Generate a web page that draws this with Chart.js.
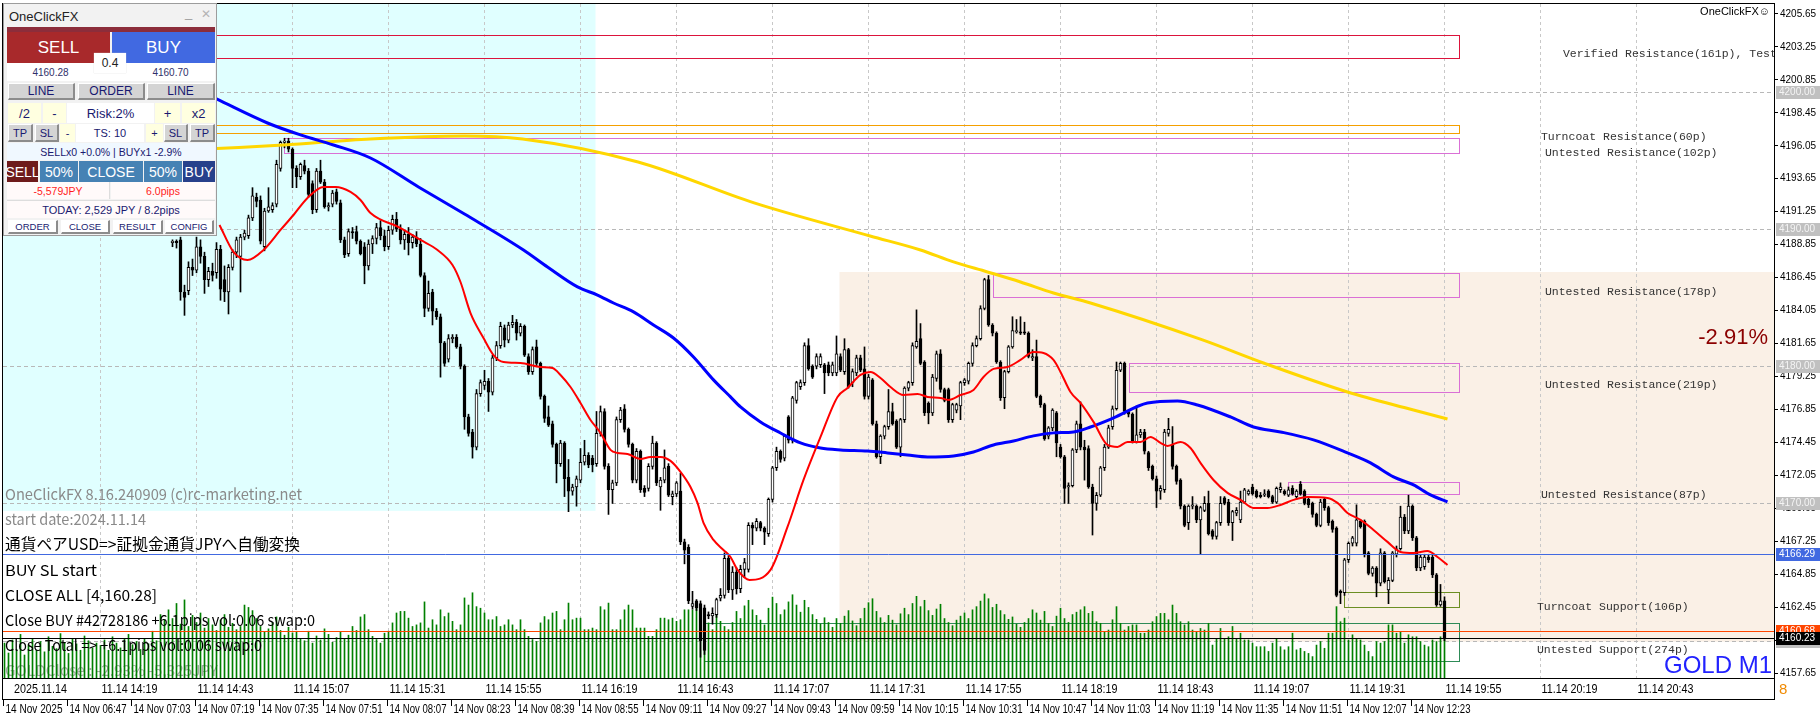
<!DOCTYPE html>
<html>
<head>
<meta charset="utf-8">
<title>GOLD M1</title>
<script src="https://cdn.jsdelivr.net/npm/chart.js@4.4.1/dist/chart.umd.min.js"></script>
<style>
  html, body { margin: 0; padding: 0; background: #fff; }
  #wrap { position: relative; width: 1820px; height: 720px; overflow: hidden; }
  #chart { position: absolute; left: 0; top: 0; }
  #panel { position: absolute; left: 0; top: 0; width: 1px; height: 1px; font-family: "Liberation Sans", Arial, sans-serif; }
  #panel div { position: absolute; box-sizing: border-box; display: flex; align-items: center; justify-content: center; white-space: nowrap; overflow: hidden; }
</style>
</head>
<body>
<div id="wrap">
  <canvas id="chart" width="1820" height="720"></canvas>
  <div id="panel"></div>
</div>
<script>
// minutes are counted from 11.14 14:19 (one candle per minute)
const firstBarMinute = 18;
// [open, high, low, close]
const ohlc = [
  [4189.0,4189.2,4188.7,4189.1],[4189.1,4189.2,4188.6,4189.0],[4189.2,4189.4,4184.8,4185.4],[4185.4,4185.9,4183.7,4185.0],
  [4185.5,4187.6,4185.2,4187.2],[4187.2,4187.8,4186.6,4187.0],[4187.0,4189.4,4186.8,4188.7],[4188.7,4189.2,4187.5,4188.0],
  [4188.0,4188.3,4185.3,4186.3],[4186.3,4187.2,4185.8,4186.9],[4186.9,4187.5,4186.2,4186.6],[4186.8,4189.0,4186.4,4188.5],
  [4188.5,4188.8,4184.8,4185.6],[4186.3,4187.3,4184.7,4185.4],[4185.4,4187.4,4183.8,4187.2],[4187.2,4188.5,4187.0,4188.3],
  [4188.3,4189.4,4187.9,4189.2],[4188.0,4189.6,4185.4,4189.4],[4189.4,4189.9,4189.2,4189.7],[4189.5,4191.0,4189.3,4190.8],
  [4190.8,4193.0,4190.6,4192.4],[4192.3,4192.6,4191.6,4192.0],[4192.1,4192.4,4188.9,4189.1],[4188.7,4191.5,4188.4,4191.3],
  [4191.3,4193.0,4191.2,4191.6],[4191.4,4191.9,4191.2,4191.7],[4191.8,4195.0,4191.6,4194.7],[4194.4,4196.4,4194.2,4196.3],
  [4196.3,4196.6,4195.9,4196.4],[4196.4,4196.6,4195.6,4195.8],[4195.8,4195.9,4193.0,4194.4],[4194.4,4194.6,4193.0,4193.8],
  [4193.8,4194.8,4193.6,4194.7],[4194.6,4195.0,4194.0,4194.2],[4194.2,4194.4,4192.3,4192.5],[4193.3,4193.5,4191.1,4191.4],
  [4191.4,4194.4,4191.2,4194.2],[4194.2,4195.0,4193.3,4193.4],[4193.4,4193.6,4191.5,4191.6],[4191.6,4191.9,4191.3,4191.7],
  [4191.8,4192.8,4191.6,4192.6],[4192.7,4192.9,4191.8,4192.0],[4191.9,4192.1,4189.0,4189.2],[4189.2,4189.4,4187.9,4188.1],
  [4188.2,4190.0,4188.0,4189.8],[4189.8,4190.1,4189.3,4189.7],[4189.8,4190.2,4188.9,4189.1],[4189.1,4189.2,4188.1,4188.2],
  [4188.7,4189.0,4186.0,4187.3],[4187.3,4189.2,4187.0,4188.9],[4188.9,4189.5,4188.2,4189.3],[4189.3,4190.4,4188.9,4190.1],
  [4190.1,4190.6,4189.2,4189.5],[4189.5,4189.9,4188.4,4188.7],[4188.7,4190.2,4188.5,4189.9],[4189.9,4191.0,4189.6,4190.7],
  [4190.7,4191.2,4189.8,4190.0],[4190.0,4190.3,4188.9,4189.2],[4189.2,4189.9,4188.5,4189.6],[4189.6,4190.1,4188.1,4189.0],
  [4189.0,4189.6,4188.6,4189.4],[4189.4,4189.8,4188.7,4188.9],[4188.9,4189.3,4186.5,4186.6],[4186.6,4186.8,4183.6,4184.2],
  [4184.2,4186.2,4184.0,4185.3],[4185.4,4185.6,4183.0,4184.0],[4184.0,4184.2,4183.4,4183.6],[4183.6,4183.8,4179.2,4181.7],
  [4181.7,4181.8,4180.0,4180.2],[4180.5,4182.3,4180.3,4182.0],[4182.0,4182.3,4181.7,4182.1],[4182.1,4182.3,4181.3,4181.4],
  [4181.4,4181.6,4179.8,4180.0],[4180.0,4180.1,4175.4,4176.3],[4176.3,4176.5,4174.9,4175.1],[4175.2,4175.4,4173.3,4174.1],
  [4174.1,4178.3,4173.9,4178.0],[4178.0,4179.0,4177.8,4178.8],[4178.6,4179.7,4178.3,4178.9],[4178.9,4179.1,4176.7,4178.1],
  [4178.1,4180.8,4177.9,4180.6],[4180.6,4181.8,4180.4,4181.5],[4181.5,4183.2,4181.3,4182.9],[4182.8,4183.0,4181.4,4181.9],
  [4181.9,4183.2,4181.7,4183.0],[4183.0,4183.7,4182.8,4183.2],[4183.2,4183.4,4181.9,4182.4],[4182.4,4183.1,4182.2,4182.9],
  [4182.9,4183.0,4180.7,4180.8],[4180.7,4180.9,4179.4,4179.6],[4179.6,4181.4,4179.4,4181.2],[4181.4,4181.9,4180.0,4180.2],
  [4180.2,4180.3,4177.6,4177.8],[4177.8,4177.9,4175.9,4176.2],[4176.3,4177.1,4175.6,4175.7],[4175.8,4176.0,4174.1,4174.3],
  [4174.3,4174.4,4171.5,4172.9],[4172.9,4174.6,4172.7,4174.4],[4174.4,4174.5,4170.5,4171.8],[4171.9,4173.2,4169.4,4170.9],
  [4170.9,4171.4,4170.6,4171.2],[4171.2,4172.0,4169.8,4171.8],[4171.7,4174.0,4171.5,4173.0],[4173.0,4174.6,4172.8,4173.5],
  [4173.5,4173.7,4172.6,4172.8],[4173.3,4173.5,4172.3,4172.8],[4172.9,4176.7,4172.7,4175.1],[4175.1,4177.1,4174.9,4176.7],
  [4176.7,4176.9,4172.5,4172.7],[4172.7,4172.9,4169.2,4171.0],[4171.0,4171.7,4170.0,4171.5],[4171.5,4176.3,4171.3,4176.1],
  [4176.1,4177.0,4175.9,4176.8],[4176.9,4177.2,4175.2,4175.4],[4175.4,4175.5,4174.1,4174.3],[4174.3,4174.4,4171.5,4171.7],
  [4171.7,4174.0,4171.5,4173.8],[4173.8,4173.9,4170.8,4171.0],[4171.1,4171.3,4170.5,4170.8],[4171.1,4172.9,4170.9,4172.7],
  [4172.7,4174.9,4172.5,4174.4],[4174.4,4174.5,4171.3,4171.5],[4171.2,4171.9,4169.5,4171.7],[4171.7,4173.9,4171.5,4172.6],
  [4172.7,4172.9,4170.5,4170.6],[4170.5,4170.9,4169.9,4170.7],[4170.7,4171.6,4170.5,4171.5],[4170.9,4172.2,4167.0,4167.2],
  [4167.2,4167.4,4165.6,4166.6],[4166.8,4167.0,4162.7,4162.9],[4162.5,4163.6,4162.3,4162.7],[4162.9,4163.0,4162.2,4162.4],
  [4162.7,4162.9,4158.8,4160.0],[4162.4,4162.6,4159.0,4159.3],[4161.9,4162.1,4161.6,4161.8],[4161.8,4162.4,4161.2,4162.0],
  [4161.9,4163.1,4161.7,4163.0],[4163.1,4163.8,4162.9,4163.3],[4163.3,4166.4,4163.1,4166.0],[4166.0,4166.2,4163.5,4163.7],
  [4163.7,4165.4,4163.0,4165.0],[4165.0,4165.3,4163.4,4163.8],[4163.8,4165.5,4163.5,4165.2],[4165.2,4166.0,4164.6,4165.7],
  [4165.2,4168.6,4165.0,4168.4],[4168.4,4168.6,4167.0,4168.2],[4168.2,4168.9,4168.0,4168.7],[4168.6,4168.7,4168.0,4168.2],
  [4168.2,4168.3,4167.0,4167.9],[4167.8,4170.4,4167.6,4170.3],[4170.3,4172.7,4170.1,4172.6],[4172.6,4174.1,4172.4,4173.8],
  [4173.8,4173.9,4173.0,4173.2],[4173.3,4175.0,4173.1,4174.9],[4176.3,4176.4,4174.4,4174.6],[4174.6,4177.8,4174.4,4177.7],
  [4177.5,4178.9,4177.3,4178.8],[4178.5,4179.0,4178.3,4178.8],[4178.8,4181.7,4178.6,4181.5],[4181.5,4182.0,4179.7,4179.8],
  [4180.0,4180.1,4179.1,4179.2],[4180.0,4180.9,4179.8,4180.7],[4180.1,4180.9,4179.9,4180.7],[4180.1,4180.2,4178.0,4179.5],
  [4180.1,4180.3,4179.3,4179.5],[4179.5,4180.3,4179.3,4180.1],[4179.5,4182.2,4179.3,4180.9],[4180.7,4180.9,4179.6,4179.7],
  [4179.6,4182.0,4179.4,4181.2],[4181.2,4181.3,4178.4,4178.5],[4178.8,4179.8,4178.5,4179.6],[4179.5,4180.8,4179.3,4180.6],
  [4180.6,4180.8,4179.6,4179.7],[4179.8,4181.4,4177.6,4177.8],[4177.8,4179.4,4177.6,4179.2],[4179.0,4179.1,4175.7,4175.8],
  [4175.8,4176.0,4173.3,4173.4],[4173.4,4175.0,4172.9,4174.9],[4174.9,4175.7,4174.7,4175.6],[4175.6,4178.3,4175.4,4176.7],
  [4176.7,4177.3,4175.7,4175.8],[4176.0,4176.1,4174.0,4174.1],[4174.1,4176.2,4173.4,4176.1],[4176.1,4178.5,4175.9,4178.4],
  [4178.4,4178.9,4178.2,4178.8],[4178.8,4181.7,4178.6,4181.5],[4181.4,4184.1,4181.3,4181.8],[4182.0,4183.1,4180.1,4180.2],
  [4180.3,4180.4,4176.4,4176.6],[4177.3,4177.4,4175.8,4176.6],[4176.6,4179.4,4176.4,4179.2],[4179.1,4181.1,4178.9,4180.9],
  [4180.9,4181.2,4178.1,4178.3],[4178.3,4178.4,4177.4,4177.5],[4178.3,4178.4,4175.9,4176.1],[4176.1,4177.3,4175.9,4177.2],
  [4176.8,4177.3,4176.6,4177.2],[4177.1,4178.9,4176.1,4178.8],[4178.8,4179.1,4178.6,4179.0],[4178.9,4180.3,4178.7,4180.2],
  [4180.2,4181.7,4180.0,4181.5],[4181.5,4182.2,4181.4,4182.0],[4182.0,4184.4,4181.9,4184.2],[4184.2,4186.4,4184.1,4186.3],
  [4186.3,4186.6,4182.9,4183.0],[4183.0,4183.1,4182.2,4182.4],[4182.4,4182.5,4180.2,4180.3],[4180.3,4180.4,4177.5,4177.7],
  [4177.7,4179.7,4176.9,4179.6],[4179.6,4181.5,4179.5,4181.4],[4181.4,4183.6,4181.3,4182.6],[4182.5,4183.4,4182.4,4182.6],
  [4182.5,4183.6,4182.3,4182.4],[4182.5,4183.2,4182.3,4182.4],[4182.4,4182.5,4180.6,4180.7],[4180.6,4181.2,4180.4,4180.7],
  [4180.7,4181.9,4177.7,4177.8],[4177.8,4177.9,4177.0,4177.2],[4177.2,4177.3,4174.6,4174.7],[4174.9,4175.6,4174.7,4175.5],
  [4175.5,4176.9,4175.3,4176.8],[4176.6,4176.7,4173.4,4174.4],[4174.1,4174.3,4173.3,4173.4],[4173.4,4173.5,4170.0,4171.1],
  [4171.2,4171.5,4170.0,4171.3],[4171.3,4174.0,4171.2,4173.9],[4173.9,4176.0,4173.7,4175.8],[4175.8,4177.4,4173.9,4174.1],
  [4174.1,4174.6,4171.7,4173.9],[4174.0,4174.2,4171.1,4171.2],[4171.2,4171.4,4167.7,4170.0],[4170.0,4170.8,4169.5,4170.6],
  [4170.6,4172.7,4170.5,4172.6],[4172.6,4174.3,4172.4,4174.1],[4174.1,4175.7,4174.0,4175.5],[4175.6,4177.1,4175.4,4176.9],
  [4176.9,4180.3,4176.8,4179.7],[4179.7,4180.3,4179.6,4180.2],[4180.2,4180.3,4176.5,4176.7],[4176.7,4176.8,4176.3,4176.5],
  [4176.5,4176.6,4174.4,4174.5],[4174.5,4177.1,4174.4,4175.0],[4175.0,4175.4,4174.8,4175.2],[4175.2,4175.4,4173.6,4173.8],
  [4173.7,4173.8,4172.4,4172.6],[4172.7,4172.8,4171.7,4171.8],[4171.8,4172.0,4169.7,4170.9],[4170.9,4171.3,4170.3,4171.1],
  [4171.0,4175.4,4170.8,4175.2],[4175.1,4176.2,4174.9,4175.4],[4174.3,4175.6,4172.5,4172.7],[4172.7,4172.8,4171.4,4171.6],
  [4171.7,4171.8,4169.6,4169.8],[4169.8,4169.9,4168.3,4168.4],[4168.6,4169.9,4168.1,4169.8],[4169.8,4170.5,4169.6,4169.9],
  [4169.8,4169.9,4168.6,4168.8],[4168.8,4169.8,4166.3,4169.7],[4169.5,4170.5,4169.4,4170.0],[4170.0,4170.9,4167.7,4167.8],
  [4168.0,4168.1,4167.4,4167.6],[4167.6,4168.7,4167.4,4168.6],[4168.6,4170.5,4168.4,4170.0],[4170.4,4170.5,4169.9,4170.0],
  [4170.1,4170.3,4168.4,4168.6],[4168.6,4169.5,4167.3,4169.4],[4169.3,4169.7,4169.1,4169.5],[4168.8,4170.9,4168.6,4170.1],
  [4170.1,4171.1,4170.0,4171.0],[4170.7,4171.0,4170.6,4170.9],[4171.2,4171.4,4170.6,4170.7],[4170.9,4171.0,4170.4,4170.5],
  [4170.6,4170.8,4170.4,4170.5],[4170.6,4171.0,4170.5,4170.7],[4170.9,4171.0,4170.4,4170.5],[4170.5,4170.6,4170.0,4170.1],
  [4170.1,4171.2,4170.0,4171.1],[4171.0,4171.5,4170.8,4171.2],[4170.9,4171.0,4170.6,4170.7],[4170.6,4171.2,4170.5,4171.0],
  [4171.1,4171.3,4170.6,4170.7],[4170.5,4171.0,4170.3,4170.9],[4171.4,4171.6,4170.6,4170.7],[4170.9,4171.0,4169.9,4170.0],
  [4170.3,4170.4,4169.7,4169.9],[4170.0,4170.1,4169.0,4169.2],[4169.2,4169.3,4168.3,4168.4],[4168.4,4170.3,4168.3,4170.1],
  [4170.3,4170.4,4169.5,4169.7],[4169.7,4169.8,4168.4,4168.6],[4168.7,4168.8,4167.9,4168.1],[4168.2,4168.3,4163.2,4163.3],
  [4163.6,4163.7,4162.7,4163.5],[4163.5,4166.0,4163.3,4165.9],[4165.9,4167.2,4165.7,4167.1],[4167.1,4167.6,4166.9,4167.5],
  [4167.1,4169.9,4166.9,4168.8],[4168.7,4168.8,4168.2,4168.3],[4168.7,4168.8,4166.1,4166.3],[4166.4,4166.5,4164.8,4164.9],
  [4164.9,4165.4,4164.7,4165.3],[4165.3,4165.4,4163.2,4164.2],[4164.2,4166.7,4164.0,4166.4],[4166.4,4166.5,4164.2,4164.3],
  [4163.7,4164.6,4162.7,4164.4],[4164.4,4166.5,4164.3,4166.4],[4166.3,4166.9,4166.1,4166.7],[4166.7,4169.8,4166.6,4169.0],
  [4169.0,4169.2,4167.8,4168.0],[4168.0,4170.6,4167.8,4169.8],[4169.8,4169.9,4167.3,4167.5],[4167.5,4167.6,4165.1,4165.3],
  [4165.3,4166.3,4165.1,4166.1],[4165.4,4166.3,4165.2,4166.1],[4166.1,4166.3,4165.7,4165.9],[4166.1,4166.3,4164.6,4164.8],
  [4164.8,4164.9,4162.5,4162.6],[4162.6,4164.1,4162.5,4162.9],[4162.9,4163.2,4160.0,4160.23]
];

const firstVolumeMinute = -24;
const volumes = [
  88,63,96,72,110,58,84,100,70,92,66,104,80,74,112,90,62,98,86,70,106,94,76,88,
  82,96,70,104,88,76,98,110,84,92,72,100,86,118,94,160,146,172,
  150,188,136,197,130,158,140,164,126,150,134,120,146,160,128,138,122,130,
  184,178,170,150,130,116,124,140,154,120,108,128,114,118,
  100,94,118,88,106,96,124,110,90,102,116,98,108,130,120,154,
  160,122,105,97,88,113,118,139,164,168,168,151,130,134,139,192,126,147,134,172,
  155,164,143,122,134,202,184,215,180,176,164,147,147,155,130,134,147,134,122,147,
  122,105,97,92,139,155,147,164,168,122,147,189,147,151,151,122,122,126,122,180,
  172,189,122,122,147,172,184,172,126,126,126,105,105,122,151,151,147,151,143,147,
  172,172,172,189,147,172,139,122,172,143,130,122,
  140,168,150,182,196,172,158,146,134,176,204,188,160,172,192,210,184,166,
  196,178,160,148,136,152,140,128,150,138,156,170,144,132,150,176,190,200,168,152,140,158,146,134,162,
  176,160,188,206,180,196,170,158,174,186,150,140,132,146,156,164,150,172,180,194,212,200,178,186,170,
  160,148,154,136,128,140,150,172,164,146,168,138,130,156,176,150,140,160,166,
  172,180,163,168,142,138,117,121,147,180,138,121,130,134,134,113,113,121,142,155,
  163,163,147,184,163,142,134,142,121,117,125,121,138,83,100,125,100,104,130,100,
  113,96,96,88,79,79,79,67,88,100,79,71,79,113,71,75,67,62,54,83,
  92,75,113,113,180,142,151,96,109,100,96,83,67,54,92,88,92,134,134,113,
  117,88,109,104,104,92,83,79,96,92,104,100
];

// moving averages: [minute, price]
const maFast = [
  [29.75,4190.28],[33.25,4188.32],[36.75,4187.73],[40.75,4188.46],[45,4189.92],[48.25,4191.01],[51.75,4192.25],
  [55.75,4193.05],[58.75,4193.05],[62.5,4192.69],[65,4192.10],[67.5,4191.16],[75,4190.06],[80,4189.19],
  [84.25,4188.46],[88,4187.37],[90,4186.13],[92.5,4183.87],[95.75,4182.05],[98.25,4180.81],[100.75,4180.30],
  [105,4180.23],[110,4179.94],[113,4179.87],[115,4179.36],[117.5,4178.48],[120,4177.32],[122.5,4176.08],
  [125,4175.14],[127.5,4173.90],[129.25,4173.68],[131.75,4173.60],[135,4173.24],[137.5,4173.39],[140,4173.39],
  [142.5,4173.10],[145,4172.30],[147.5,4171.20],[149.25,4170.04],[150.75,4168.58],[153.25,4167.34],[155.75,4166.61],
  [157.5,4166.10],[159.25,4165.16],[162.25,4164.43],[167.5,4165.16],[171.75,4168.29],[175.75,4171.71],
  [180,4174.84],[184.25,4177.76],[186.75,4178.41],[190,4179.36],[192.5,4179.58],[195,4179.14],[197.5,4178.48],
  [200.75,4177.90],[204.25,4177.97],[206.75,4177.76],[210,4177.68],[212,4177.54],[215,4177.90],[218.25,4178.27],
  [220.75,4179.21],[223.25,4179.80],[226.75,4179.94],[230,4180.45],[233.25,4181.03],[235.75,4180.96],
  [238.25,4180.45],[240,4179.58],[242.5,4178.12],[245,4177.32],[248.25,4175.94],[251.75,4174.26],[254.25,4174.12],
  [256.75,4174.48],[260,4174.48],[262.5,4174.84],[265,4174.41],[266.75,4174.19],[270,4174.48],[272.5,4174.04],
  [275,4172.95],[278.25,4171.71],[281.75,4170.77],[285,4170.26],[288.25,4169.67],[291.75,4169.67],[295,4169.89],
  [298.25,4170.26],[301.75,4170.47],[306.75,4170.40],[309.25,4170.04],[311.75,4169.31],[315,4168.80],
  [318.25,4168.07],[321.75,4167.20],[325,4166.47],[328.25,4166.39],[331.75,4166.54],[334.25,4166.10],[336.75,4165.52]
];
const maMid = [
  [29,4199.46],[41.75,4197.71],[50,4196.84],[58.25,4196.11],[67.5,4195.16],[79.5,4193.05],[91,4191.08],
  [105.75,4188.46],[111.75,4187.22],[119.25,4185.77],[124.25,4185.18],[128.25,4184.60],[133.25,4183.95],
  [138.25,4183.00],[143.25,4182.05],[148.25,4180.67],[153.25,4179.00],[157.5,4177.76],[160,4177.03],[165,4175.94],
  [170,4175.13],[175,4174.41],[180,4174.04],[185,4173.90],[191.75,4173.82],[196.75,4173.68],[201.75,4173.53],
  [206.75,4173.39],[213.25,4173.46],[218.25,4173.75],[223.25,4174.26],[228.25,4174.55],[233.25,4174.92],
  [238.25,4175.14],[243.25,4175.21],[247.5,4175.57],[253.25,4176.23],[261.75,4177.32],[269.25,4177.47],
  [274.25,4177.17],[282.5,4176.30],[288.25,4175.57],[295,4175.21],[303.25,4174.63],[311.75,4173.68],
  [317.5,4172.95],[323.25,4171.93],[328.25,4171.35],[332.5,4170.62],[336.75,4170.11]
];
const maSlow = [
  [29,4195.85],[45.75,4196.11],[67.5,4196.55],[91,4196.77],[105.5,4196.55],[134.4,4194.87],[163.4,4191.89],
  [192.4,4189.48],[205,4188.46],[213.25,4187.59],[221.75,4186.86],[230,4186.13],[238.25,4185.33],[247.5,4184.60],
  [275.5,4181.91],[290.75,4180.23],[311.75,4178.12],[328.25,4176.81],[336.75,4176.15]
];

// supply / demand zones
const zoneFrom   = [-24.375, -24.375, 45.75, 223, 257, 296.75, 310.75, 150.75];
const zoneTo     = [339.6, 339.6, 339.6, 339.6, 339.6, 339.6, 339.6, 339.6];
const zoneTop    = [4204.12, 4197.57, 4196.62, 4186.81, 4180.25, 4171.59, 4163.53, 4161.27];
const zoneBottom = [4202.45, 4196.98, 4195.53, 4185.02, 4178.10, 4170.72, 4162.44, 4158.53];
const zoneKinds  = ['verified', 'turncoat', 'untested', 'untested', 'untested', 'untested', 'turncoatSup', 'untestedSup'];
const zoneNames  = ['Verified Resistance(161p), Tested', 'Turncoat Resistance(60p)', 'Untested Resistance(102p)',
  'Untested Resistance(178p)', 'Untested Resistance(219p)', 'Untested Resistance(87p)',
  'Turncoat Support(106p)', 'Untested Support(274p)'];
const zoneLabelMinute = [365.6, 360.1, 361.1, 361.1, 361.1, 360.1, 359.1, 359.1];
const zoneLabelPrice  = [4202.74, 4196.69, 4195.53, 4185.40, 4178.63, 4170.62, 4162.46, 4159.33];

// shaded sessions
const shadeFrom   = [-24.375, 184.75];
const shadeTo     = [123.75, 418.375];
const shadeTop    = [4206.4, 4186.86];
const shadeBottom = [4169.46, 4159.93];

const priceTicks = [4205.65, 4203.25, 4200.85, 4198.45, 4196.05, 4193.65, 4191.25, 4188.85, 4186.45, 4184.05, 4181.65,
  4179.25, 4176.85, 4174.45, 4172.05, 4169.65, 4167.25, 4164.85, 4162.45, 4160.05, 4157.65];
const roundLevels = [4200, 4190, 4180, 4170, 4160];
const bluePrice = 4166.29, stopPrice = 4160.68, bidPrice = 4160.23;

const topTimeMinutes = [-24, 0, 24, 48, 72, 96, 120, 144, 168, 192, 216, 240, 264, 288, 312, 336, 360, 384];
const topTimeLabels = ['2025.11.14', '11.14 14:19', '11.14 14:43', '11.14 15:07', '11.14 15:31', '11.14 15:55',
  '11.14 16:19', '11.14 16:43', '11.14 17:07', '11.14 17:31', '11.14 17:55', '11.14 18:19', '11.14 18:43',
  '11.14 19:07', '11.14 19:31', '11.14 19:55', '11.14 20:19', '11.14 20:43'];
const bottomTimeLabels = ['14 Nov 2025', '14 Nov 06:47', '14 Nov 07:03', '14 Nov 07:19', '14 Nov 07:35', '14 Nov 07:51',
  '14 Nov 08:07', '14 Nov 08:23', '14 Nov 08:39', '14 Nov 08:55', '14 Nov 09:11', '14 Nov 09:27', '14 Nov 09:43',
  '14 Nov 09:59', '14 Nov 10:15', '14 Nov 10:31', '14 Nov 10:47', '14 Nov 11:03', '14 Nov 11:19', '14 Nov 11:35',
  '14 Nov 11:51', '14 Nov 12:07', '14 Nov 12:23'];

const infoTexts = ['OneClickFX 8.16.240909 (c)rc-marketing.net', 'start date:2024.11.14', '通貨ペアUSD=>証拠金通貨JPYへ自働変換',
  'BUY SL start', 'CLOSE ALL [4,160.28]', 'Close BUY #42728186 +6.1pips vol:0.06 swap:0',
  'Close Total => +6.1pips vol:0.06 swap:0', 'GOLDClose : -2.93% -5,325JPY'];

// ---- styles ----
const zoneColors = { verified: '#dc143c', turncoat: '#f5a000', untested: '#da70d6', turncoatSup: '#6b8e23', untestedSup: '#2e8b57' };
const shadeColors = ['#e0ffff', '#faf0e6'];
const infoY = [494, 519, 544, 570, 595, 620, 645, 670];
const infoW = [297, 141, 295, 92, 152, 310, 257, 213];
const infoColor = ['#8a8a8a', '#8a8a8a', '#000', '#000', '#000', '#000', '#000', '#a8a8a8'];
const jpFont = '"Noto Sans CJK JP", "Liberation Sans", sans-serif';

Chart.defaults.font.family = '"Liberation Sans", Arial, sans-serif';

function fitText(ctx, text, x, y, width, font, color) {
  ctx.save();
  ctx.font = font;
  const w = ctx.measureText(text).width;
  ctx.translate(x, y);
  ctx.scale(width / w, 1);
  ctx.fillStyle = color;
  ctx.textBaseline = 'middle';
  ctx.textAlign = 'left';
  ctx.fillText(text, 0, 0);
  ctx.restore();
}

function hLine(ctx, area, y, color, dash) {
  ctx.save();
  ctx.strokeStyle = color;
  ctx.lineWidth = 1;
  ctx.setLineDash(dash || []);
  const yy = Math.round(y) + 0.5;
  ctx.beginPath();
  ctx.moveTo(area.left, yy);
  ctx.lineTo(area.right, yy);
  ctx.stroke();
  ctx.restore();
}

const overlay = {
  id: 'overlay',
  beforeDraw(chart) {
    const { ctx, chartArea: a, scales: { x, y } } = chart;
    ctx.save();
    ctx.fillStyle = '#fff';
    ctx.fillRect(0, 0, chart.width, chart.height);
    ctx.beginPath();
    ctx.rect(a.left, a.top, a.right - a.left, a.bottom - a.top);
    ctx.clip();
    shadeFrom.forEach((f, i) => {
      const x0 = x.getPixelForValue(f), x1 = x.getPixelForValue(shadeTo[i]);
      const y0 = y.getPixelForValue(shadeTop[i]), y1 = y.getPixelForValue(shadeBottom[i]);
      ctx.fillStyle = shadeColors[i];
      ctx.fillRect(x0, y0, x1 - x0, y1 - y0);
    });
    ctx.restore();
  },
  beforeDatasetsDraw(chart) {
    const { ctx, chartArea: a, scales: { x, y } } = chart;
    ctx.save();
    ctx.beginPath();
    ctx.rect(a.left, a.top, a.right - a.left, a.bottom - a.top);
    ctx.clip();
    roundLevels.forEach(p => hLine(ctx, a, y.getPixelForValue(p), '#b8b8b8', [4, 3]));
    zoneFrom.forEach((f, i) => {
      const x0 = Math.round(x.getPixelForValue(f)) + 0.5, x1 = Math.round(x.getPixelForValue(zoneTo[i])) + 0.5;
      const y0 = Math.round(y.getPixelForValue(zoneTop[i])) + 0.5, y1 = Math.round(y.getPixelForValue(zoneBottom[i])) + 0.5;
      ctx.strokeStyle = zoneColors[zoneKinds[i]];
      ctx.lineWidth = 1;
      ctx.strokeRect(x0, y0, x1 - x0, y1 - y0);
    });
    fitText(ctx, infoTexts[7], 5, infoY[7], infoW[7], '15px ' + jpFont, infoColor[7]);
    ctx.restore();
  },
  afterDatasetsDraw(chart) {
    const { ctx, chartArea: a, scales: { x, y } } = chart;
    ctx.save();
    ctx.beginPath();
    ctx.rect(a.left, a.top, a.right - a.left, a.bottom - a.top);
    ctx.clip();
    hLine(ctx, a, y.getPixelForValue(bluePrice), '#4169e1');
    hLine(ctx, a, y.getPixelForValue(stopPrice), '#ff4500');
    hLine(ctx, a, y.getPixelForValue(bidPrice), '#000000');
    // zone labels
    ctx.font = '11.5px "Liberation Mono", monospace';
    ctx.fillStyle = '#333';
    ctx.textBaseline = 'middle';
    ctx.textAlign = 'left';
    zoneNames.forEach((t, i) => ctx.fillText(t, x.getPixelForValue(zoneLabelMinute[i]), y.getPixelForValue(zoneLabelPrice[i])));
    // info texts (top-left log)
    for (let i = 0; i < 7; i++) {
      fitText(ctx, infoTexts[i], 5, infoY[i], infoW[i], (i === 2 ? '16px ' : '15px ') + jpFont, infoColor[i]);
    }
    ctx.textAlign = 'right';
    ctx.fillStyle = '#8b0000';
    ctx.font = '22px "Liberation Sans", Arial, sans-serif';
    ctx.fillText('-2.91%', 1768, 338);
    ctx.fillStyle = '#2222ff';
    ctx.font = '24px "Liberation Sans", Arial, sans-serif';
    ctx.fillText('GOLD M1', 1772, 666);
    ctx.fillStyle = '#000';
    ctx.font = '11px "Liberation Sans", "DejaVu Sans", sans-serif';
    ctx.fillText('OneClickFX\u263A', 1770, 12);
    ctx.restore();
  },
  afterDraw(chart) {
    const { ctx, chartArea: a, scales: { x, y } } = chart;
    ctx.save();
    ctx.strokeStyle = '#000';
    ctx.lineWidth = 1;
    ctx.strokeRect(a.left - 0.5, a.top - 0.5, a.right - a.left + 1, a.bottom - a.top + 1);
    // local time row (boxed)
    ctx.strokeRect(a.left - 0.5, a.bottom + 0.5, a.right - a.left + 1, 21);
    topTimeLabels.forEach((t, i) => {
      const px = i === 0 ? 14 : x.getPixelForValue(topTimeMinutes[i]) + 1;
      fitText(ctx, t, px, a.bottom + 11, t.length === 10 ? 53 : 56, '13px "Liberation Sans", Arial, sans-serif', '#000');
    });
    // server time row
    bottomTimeLabels.forEach((t, j) => {
      const px = Math.round(x.getPixelForValue(-24.375 + 16 * j)) + 0.5;
      ctx.beginPath();
      ctx.moveTo(px, a.bottom + 22);
      ctx.lineTo(px, a.bottom + 28);
      ctx.stroke();
      fitText(ctx, t, px + 2, a.bottom + 32, 57, '12px "Liberation Sans", Arial, sans-serif', '#000');
    });
    ctx.fillStyle = '#f08a00';
    ctx.font = '15px "Liberation Sans", Arial, sans-serif';
    ctx.textBaseline = 'middle';
    ctx.textAlign = 'left';
    ctx.fillText('8', a.right + 5, a.bottom + 12);
    // price boxes on the axis
    const boxes = roundLevels.map(p => [p, '#c0c0c0', '#f4f4f4'])
      .concat([[bluePrice, '#4169e1', '#fff'], [stopPrice, '#ff4500', '#fff'], [bidPrice, '#000', '#fff']]);
    ctx.font = '10px "Liberation Sans", Arial, sans-serif';
    boxes.forEach(([p, bg, fg]) => {
      const py = y.getPixelForValue(p);
      ctx.fillStyle = bg;
      ctx.fillRect(a.right + 2, Math.round(py) - 6, 44, 13);
      ctx.fillStyle = fg;
      ctx.fillText(p.toFixed(2), a.right + 5, Math.round(py) + 0.5);
    });
    ctx.restore();
  }
};

const bodies = ohlc.map((r, i) => ({ x: firstBarMinute + i, y: [r[0], r[3]] }));
const wicks = ohlc.map((r, i) => ({ x: firstBarMinute + i, y: [r[2], r[1]] }));
const bodyColors = ohlc.map(r => (r[3] >= r[0] ? '#ffffff' : '#000000'));
const volData = volumes.map((v, i) => ({ x: firstVolumeMinute + i, y: v }));
const pts = arr => arr.map(p => ({ x: p[0], y: p[1] }));

new Chart(document.getElementById('chart'), {
  type: 'bar',
  data: {
    datasets: [
      { type: 'bar', data: volData, yAxisID: 'yv', backgroundColor: '#008000', barThickness: 1, grouped: false, order: 6 },
      { type: 'bar', data: wicks, yAxisID: 'y', backgroundColor: '#000', barThickness: 1, grouped: false, order: 5 },
      { type: 'bar', data: bodies, yAxisID: 'y', backgroundColor: bodyColors, borderColor: '#000', borderWidth: 1,
        borderSkipped: false, barThickness: 3, minBarLength: 1, grouped: false, order: 4 },
      { type: 'line', data: pts(maSlow), yAxisID: 'y', borderColor: '#ffd700', borderWidth: 3, pointRadius: 0,
        cubicInterpolationMode: 'monotone', order: 3 },
      { type: 'line', data: pts(maMid), yAxisID: 'y', borderColor: '#0000ff', borderWidth: 3, pointRadius: 0,
        cubicInterpolationMode: 'monotone', order: 2 },
      { type: 'line', data: pts(maFast), yAxisID: 'y', borderColor: '#ff0000', borderWidth: 2, pointRadius: 0,
        cubicInterpolationMode: 'monotone', order: 1 }
    ]
  },
  options: {
    responsive: false,
    animation: false,
    events: [],
    layout: { padding: { left: 3, top: 4, right: 0, bottom: 42 } },
    plugins: { legend: { display: false }, tooltip: { enabled: false } },
    scales: {
      x: {
        type: 'linear', min: -24.375, max: 418.375, offset: false,
        afterBuildTicks(s) { s.ticks = topTimeMinutes.slice(1).map(v => ({ value: v })); },
        afterFit(s) { s.height = 0; },
        ticks: { display: false },
        grid: { color: '#c8c8c8', drawTicks: false, offset: false },
        border: { display: false, dash: [3, 3] }
      },
      y: {
        position: 'right', min: 4157.286, max: 4206.378,
        afterBuildTicks(s) { s.ticks = priceTicks.map(v => ({ value: v })); },
        afterFit(s) { s.width = 46; s.paddingTop = 0; s.paddingBottom = 0; },
        ticks: { autoSkip: false, padding: 2, color: '#000', font: { size: 10 }, callback: v => Number(v).toFixed(2) },
        grid: { drawOnChartArea: false, drawTicks: true, tickLength: 4, color: '#000' },
        border: { display: true, color: '#000' }
      },
      yv: { display: false, min: 0, max: 1700 }
    }
  },
  plugins: [overlay]
});

// ---- OneClickFX trade panel ----
const panel = document.getElementById('panel');
function cell(text, x, y, w, h, bg, color, size, extra) {
  const d = document.createElement('div');
  d.textContent = text;
  d.style.cssText = `left:${x}px;top:${y}px;width:${w}px;height:${h}px;` +
    (bg ? `background:${bg};` : '') + `color:${color || '#191970'};font-size:${size || 11}px;` + (extra || '');
  panel.appendChild(d);
}
const btn3d = 'border-top:1px solid #fff;border-left:1px solid #fff;border-right:2px solid #8c8c8c;border-bottom:2px solid #8c8c8c;';
cell('', 3, 3, 214, 233, '#f2f2f2', null, 11, 'border:1px solid #9c9c9c;');
cell('OneClickFX', 9, 7, 90, 18, null, '#222', 13, 'justify-content:flex-start;');
cell('_', 183, 4, 11, 16, null, '#9a9a9a', 13);
cell('\u2715', 200, 7, 12, 14, null, '#b4b4b4', 12);
cell('', 7, 27, 208, 5, '#8c2d3b');
cell('SELL', 7, 32, 103, 31, '#a8292b', '#fff', 17);
cell('BUY', 112, 32, 103, 31, '#4169e1', '#fff', 17);
cell('', 7, 63, 208, 18, '#ffffff');
cell('4160.28', 7, 64, 87, 16, null, '#30306a', 10);
cell('4160.70', 126, 64, 89, 16, null, '#30306a', 10);
cell('0.4', 94, 53, 32, 20, '#ffffff', '#222', 12, 'box-shadow:0 0 1px #ccc;');
cell('LINE', 8, 83, 67, 17, '#d4d4d4', '#191970', 12, btn3d);
cell('ORDER', 78, 83, 67, 17, '#d4d4d4', '#191970', 12, btn3d);
cell('LINE', 147, 83, 68, 17, '#d4d4d4', '#191970', 12, btn3d);
cell('/2', 8, 103, 33, 20, '#ffffe0', '#191970', 13);
cell('-', 43, 103, 23, 20, '#ffffe0', '#191970', 13);
cell('Risk:2%', 67, 103, 87, 20, '#ffffff', '#191970', 13);
cell('+', 155, 103, 25, 20, '#ffffe0', '#191970', 13);
cell('x2', 182, 103, 33, 20, '#ffffe0', '#191970', 13);
cell('TP', 8, 124, 25, 18, '#d4d4d4', '#191970', 11, btn3d);
cell('SL', 35, 124, 24, 18, '#d4d4d4', '#191970', 11, btn3d);
cell('-', 60, 124, 15, 18, '#ffffe0', '#191970', 11);
cell('TS: 10', 76, 124, 68, 18, '#ffffff', '#191970', 11);
cell('+', 146, 124, 17, 18, '#ffffe0', '#191970', 11);
cell('SL', 164, 124, 24, 18, '#d4d4d4', '#191970', 11, btn3d);
cell('TP', 190, 124, 25, 18, '#d4d4d4', '#191970', 11, btn3d);
cell('SELLx0 +0.0% | BUYx1 -2.9%', 7, 143, 208, 17, '#f0f8ff', '#191970', 10.5);
cell('SELL', 7, 161, 31, 21, '#6e1b1b', '#fff', 14);
cell('50%', 40, 161, 38, 21, '#4682b4', '#fff', 14);
cell('CLOSE', 79, 161, 64, 21, '#4682b4', '#fff', 14);
cell('50%', 144, 161, 38, 21, '#4682b4', '#fff', 14);
cell('BUY', 183, 161, 32, 21, '#27408b', '#fff', 14);
cell('-5,579JPY', 7, 182, 103, 17, '#fffafa', '#ff1c1c', 10.5, 'border-right:1px solid #ddd;');
cell('6.0pips', 111, 182, 104, 17, '#fffafa', '#ff1c1c', 10.5);
cell('TODAY: 2,529 JPY / 8.2pips', 7, 200, 208, 18, '#fffafa', '#191970', 11, 'border-top:1px solid #ddd;');
cell('ORDER', 8, 220, 50, 14, '#ffffff', '#191970', 9.5, btn3d);
cell('CLOSE', 61, 220, 49, 14, '#ffffff', '#191970', 9.5, btn3d);
cell('RESULT', 113, 220, 50, 14, '#ffffff', '#191970', 9.5, btn3d);
cell('CONFIG', 165, 220, 49, 14, '#ffffff', '#191970', 9.5, btn3d);
</script>
</body>
</html>
